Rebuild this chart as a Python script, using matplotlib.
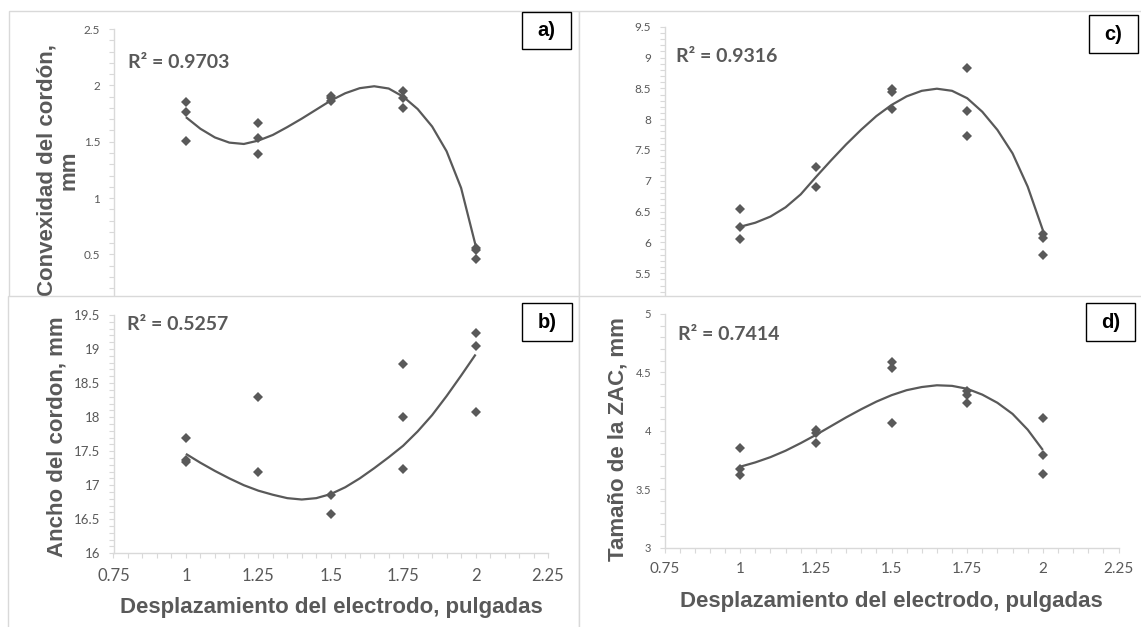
"""
Cuatro gráficos de dispersión con línea de tendencia (estilo Excel)
Eje x: desplazamiento del electrodo (pulgadas)
"""

import matplotlib.pyplot as plt
from matplotlib.patches import Rectangle
from matplotlib.ticker import MultipleLocator, FuncFormatter

W, H = 1141, 627
GRIS = '#595959'
BORDE = '#d9d9d9'
FUENTE_EJE = 'Liberation Sans'
FUENTE_NUM = 'Lato'

# ---- datos ----
x_a = [1, 1, 1, 1.25, 1.25, 1.25, 1.5, 1.5, 1.5, 1.75, 1.75, 1.75, 2, 2, 2]
convexidad = [1.85, 1.76, 1.51, 1.67, 1.53, 1.39, 1.91, 1.89, 1.86,
              1.95, 1.89, 1.80, 0.56, 0.54, 0.46]

x_b = [1, 1, 1, 1.25, 1.25, 1.5, 1.5, 1.75, 1.75, 1.75, 2, 2, 2]
ancho = [17.69, 17.37, 17.34, 18.29, 17.19, 16.86, 16.57,
         18.78, 18.00, 17.24, 19.24, 19.04, 18.08]

x_c = [1, 1, 1, 1.25, 1.25, 1.5, 1.5, 1.5, 1.75, 1.75, 1.75, 2, 2, 2]
panel_c = [6.55, 6.25, 6.06, 7.22, 6.90, 8.49, 8.44, 8.16,
           8.83, 8.13, 7.73, 6.13, 6.07, 5.79]

x_d = [1, 1, 1, 1.25, 1.25, 1.25, 1.5, 1.5, 1.5, 1.75, 1.75, 1.75, 2, 2, 2]
zac = [3.85, 3.67, 3.62, 4.01, 3.98, 3.90, 4.59, 4.54, 4.07,
       4.34, 4.31, 4.24, 4.11, 3.79, 3.63]

# líneas de tendencia
trend_x = [1.00, 1.05, 1.10, 1.15, 1.20, 1.25, 1.30, 1.35, 1.40, 1.45, 1.50,
           1.55, 1.60, 1.65, 1.70, 1.75, 1.80, 1.85, 1.90, 1.95, 2.00]
trend_a = [1.718, 1.615, 1.538, 1.492, 1.480, 1.510, 1.56, 1.63, 1.705, 1.785,
           1.865, 1.93, 1.975, 1.992, 1.972, 1.90, 1.79, 1.635, 1.415, 1.09, 0.58]
trend_b = [17.46, 17.33, 17.21, 17.10, 17.00, 16.92, 16.86, 16.81, 16.79, 16.81,
           16.87, 16.97, 17.10, 17.25, 17.41, 17.58, 17.79, 18.03, 18.31, 18.61, 18.92]
trend_c = [6.255, 6.32, 6.42, 6.57, 6.78, 7.06, 7.33, 7.59, 7.83, 8.05,
           8.23, 8.37, 8.46, 8.494, 8.46, 8.34, 8.12, 7.825, 7.445, 6.905, 6.20]
trend_d = [3.693, 3.73, 3.775, 3.83, 3.895, 3.965, 4.04, 4.115, 4.185, 4.25,
           4.305, 4.348, 4.375, 4.39, 4.385, 4.36, 4.31, 4.24, 4.145, 4.01, 3.836]

r2_textos = ['R² = 0.9703', 'R² = 0.5257', 'R² = 0.9316', 'R² = 0.7414']
letras = ['a)', 'b)', 'c)', 'd)']
titulo_x = 'Desplazamiento del electrodo, pulgadas'

fig = plt.figure(figsize=(W / 100, H / 100), dpi=100)


def fx(x):
    return x / W


def fy(y):
    return 1 - y / H


def marco(x0, y0, x1, y1, z, color=BORDE, lw=1.0):
    fig.add_artist(Rectangle((fx(x0), fy(y1)), (x1 - x0) / W, (y1 - y0) / H,
                             transform=fig.transFigure, facecolor='white',
                             edgecolor=color, lw=lw, zorder=z))


def panel(px, x, y, tx, ty, ylim, z, ysize, xsize, cubierto=False):
    x0, y0, x1, y1 = px
    ax = fig.add_axes([fx(x0), fy(y1), (x1 - x0) / W, (y1 - y0) / H])
    ax.set_zorder(z)
    ax.patch.set_visible(False)
    ax.plot(tx, ty, '-', lw=1.6, color=GRIS, solid_capstyle='butt',
            solid_joinstyle='round', zorder=2)
    ax.plot(x, y, 'D', ms=4.8, mew=0, color=GRIS, zorder=3)
    ax.set_xlim(0.75, 2.25)
    ax.set_ylim(*ylim)
    ax.xaxis.set_major_locator(MultipleLocator(0.25))
    ax.xaxis.set_minor_locator(MultipleLocator(0.05))
    ax.yaxis.set_major_locator(MultipleLocator(0.5))
    ax.yaxis.set_minor_locator(MultipleLocator(0.1))
    ymin = ylim[0]
    # en los paneles de arriba la parte baja queda tapada por el panel inferior
    fmt_y = FuncFormatter(lambda v, p: '' if (cubierto and v <= ymin) else f'{v:g}')
    ax.xaxis.set_major_formatter(FuncFormatter(lambda v, p: f'{v:g}'))
    ax.yaxis.set_major_formatter(fmt_y)
    for s in ['top', 'right']:
        ax.spines[s].set_visible(False)
    for s in ['left', 'bottom']:
        ax.spines[s].set_color(BORDE)
        ax.spines[s].set_linewidth(1.0)
    ax.tick_params(which='both', direction='out', length=3.5, width=0.8,
                   color=BORDE, labelcolor=GRIS)
    ax.tick_params(axis='y', which='major', pad=6, labelsize=ysize)
    ax.tick_params(axis='x', which='major', pad=7, labelsize=xsize,
                   labelbottom=not cubierto)
    for lab in ax.get_xticklabels() + ax.get_yticklabels():
        lab.set_fontfamily(FUENTE_NUM)
    return ax


def etiqueta(box, texto, z):
    x0, y0, x1, y1 = box
    marco(x0, y0, x1, y1, z, color='black', lw=1.0)
    fig.text(fx((x0 + x1) / 2), fy((y0 + y1) / 2), texto, ha='center',
             va='center', fontsize=14.5, fontweight='bold',
             family=FUENTE_EJE, color='black', zorder=z + 0.1)


def r2(x, y, texto, z):
    fig.text(fx(x), fy(y), texto, ha='left', va='center', fontsize=14,
             fontweight='bold', family=FUENTE_NUM, color=GRIS, zorder=z)


def titulo(x, y, texto, rot, z):
    fig.text(fx(x), fy(y), texto, ha='center', va='center', rotation=rot,
             fontsize=16, fontweight='bold', family=FUENTE_EJE, color=GRIS,
             multialignment='center', linespacing=1.05, zorder=z)


# a) arriba izquierda
marco(9, 11, 579, 330, 0)
panel((113.5, 29, 548, 310.8), x_a, convexidad, trend_x, trend_a,
      (0, 2.5), 1, 8.5, 12, cubierto=True)
r2(128, 62, r2_textos[0], 1.5)
etiqueta((522, 12, 571, 49), letras[0], 1.5)
titulo(58, 170, 'Convexidad del cordón,\nmm', 90, 1.5)

# c) arriba derecha
marco(579, 11, 1160, 330, 0)
panel((664.5, 26.7, 1118.5, 304.1), x_c, panel_c, trend_x, trend_c,
      (5, 9.5), 1, 8.5, 11, cubierto=True)
r2(676, 57, r2_textos[2], 1.5)
etiqueta((1089, 15, 1138, 53), letras[2], 1.5)

# b) abajo izquierda
marco(8, 296, 579, 660, 2)
panel((113.5, 315, 548, 553.3), x_b, ancho, trend_x, trend_b,
      (16, 19.5), 3, 9.5, 12)
r2(127, 325, r2_textos[1], 3.5)
etiqueta((522, 303, 572, 341), letras[1], 3.5)
titulo(57, 437, 'Ancho del cordon, mm', 90, 3.5)
titulo(331, 608, titulo_x, 0, 3.5)

# d) abajo derecha
marco(579, 296, 1160, 660, 2)
panel((664.5, 314, 1118.5, 547.7), x_d, zac, trend_x, trend_d,
      (3, 5), 3, 8, 11)
r2(678, 335, r2_textos[3], 3.5)
etiqueta((1086, 303, 1135, 341), letras[3], 3.5)
titulo(618, 439, 'Tamaño de la ZAC, mm', 90, 3.5)
titulo(891.5, 602, titulo_x, 0, 3.5)

fig.savefig('out.png', dpi=100)
